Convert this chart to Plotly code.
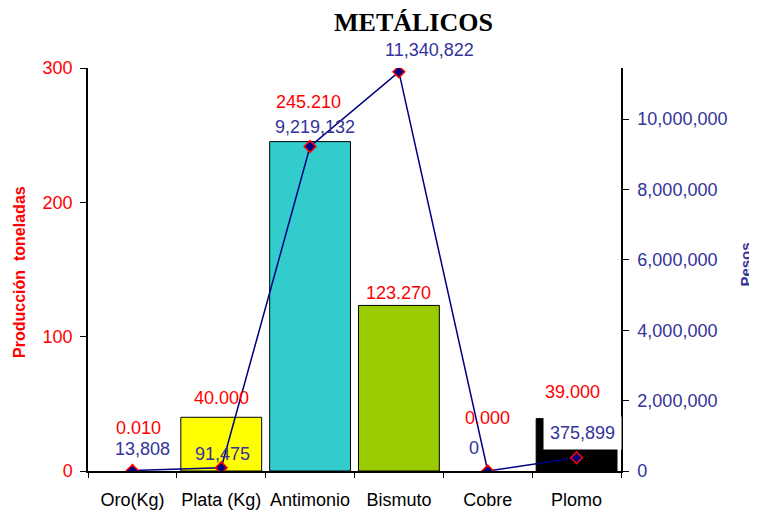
import plotly.graph_objects as go

# ---- data ----
categories = ["Oro(Kg)", "Plata (Kg)", "Antimonio", "Bismuto", "Cobre", "Plomo"]
produccion = [0.010, 40.000, 245.210, 123.270, 0.000, 39.000]
produccion_labels = ["0.010", "40.000", "245.210", "123.270", "0.000", "39.000"]
pesos = [13808, 91475, 9219132, 11340822, 0, 375899]
pesos_labels = ["13,808", "91,475", "9,219,132", "11,340,822", "0", "375,899"]

# ---- styles / label placement (pixels) ----
bar_colors = ["#FFFFFF", "#FFFF00", "#33CCCC", "#99CC00", "#FFFFFF", "#000000"]
bar_outline = [0, 1, 1, 1, 0, 1]
bar_label_shift = [(6, 43), (0, 19), (-2, 40), (0, 12), (0, 53), (-4, 27)]
line_label_shift = [(10, 22), (1, 14), (5, 20), (31, 22), (-14, 23), (6, 25)]

FONT = "Liberation Sans, Arial, sans-serif"
RED = "#FF0000"
BLUE = "#333399"
NAVY = "#000080"

W, H = 749, 506  # page body has an 8px margin

fig = go.Figure()
fig.add_trace(go.Bar(
    x=categories, y=produccion, yaxis="y",
    marker=dict(color=bar_colors, line=dict(color="black", width=bar_outline)),
    showlegend=False, hoverinfo="skip",
))
fig.add_trace(go.Scatter(
    x=categories, y=pesos, yaxis="y2", mode="lines+markers",
    line=dict(color=NAVY, width=1.5),
    marker=dict(symbol="diamond", size=9, color=NAVY, line=dict(color=RED, width=1.5)),
    showlegend=False, hoverinfo="skip",
))

annotations = []
for i, c in enumerate(categories):
    dx, dy = bar_label_shift[i]
    annotations.append(dict(
        x=c, y=produccion[i], xref="x", yref="y", text=produccion_labels[i],
        showarrow=False, xshift=dx, yshift=dy, xanchor="center", yanchor="middle",
        font=dict(family=FONT, size=18, color=RED),
    ))
for i, c in enumerate(categories):
    dx, dy = line_label_shift[i]
    extra = {}
    if c == "Plomo":
        extra = dict(bgcolor="white", borderpad=6)
    annotations.append(dict(
        x=c, y=pesos[i], xref="x", yref="y2", text=pesos_labels[i],
        showarrow=False, xshift=dx, yshift=dy, xanchor="center", yanchor="middle",
        font=dict(family=FONT, size=18, color=BLUE), **extra,
    ))
annotations.append(dict(
    x=-0.1276, y=0.494, xref="paper", yref="paper", text="<b>Producción  toneladas</b>",
    textangle=-90, showarrow=False, xanchor="center", yanchor="middle",
    font=dict(family=FONT, size=16, color=RED),
))
annotations.append(dict(
    x=(748 - 80) / 533, y=0.511, xref="paper", yref="paper", text="<b>Pesos</b>",
    textangle=-90, showarrow=False, xanchor="right", yanchor="middle",
    font=dict(family=FONT, size=15, color=BLUE),
))

fig.update_layout(
    width=W, height=H, autosize=False,
    margin=dict(l=80, r=136, t=60, b=43, autoexpand=False),
    paper_bgcolor="white", plot_bgcolor="white",
    bargap=0.09,
    title=dict(text="<b>METÁLICOS</b>", x=405.5 / W, xref="container", xanchor="center",
               y=1 - 14 / H, yref="container", yanchor="middle",
               font=dict(family="Liberation Serif, Times New Roman, serif", size=26, color="black")),
    xaxis=dict(type="category", range=[-0.5, 5.5], showline=True, linecolor="black", linewidth=1.5,
               ticks="outside", ticklen=5, tickcolor="black", tickson="boundaries",
               tickangle=0, automargin=False, ticklabelstandoff=12,
               showgrid=False, zeroline=False,
               tickfont=dict(family=FONT, size=18, color="black")),
    yaxis=dict(range=[0, 300], tickvals=[0, 100, 200, 300], showline=True, linecolor="black",
               linewidth=1.5, ticks="outside", ticklen=6, tickcolor="black", automargin=False,
               ticklabelstandoff=4,
               showgrid=False, zeroline=False,
               tickfont=dict(family=FONT, size=18, color=RED)),
    yaxis2=dict(overlaying="y", side="right", range=[0, 11450000],
                tickvals=[0, 2000000, 4000000, 6000000, 8000000, 10000000], tickformat=",d",
                showline=True, linecolor="black", linewidth=1.5, ticks="outside", ticklen=6,
                tickcolor="black", showgrid=False, zeroline=False, automargin=False,
                ticklabelstandoff=5,
                tickfont=dict(family=FONT, size=18, color=BLUE)),
    annotations=annotations,
)

fig.write_html("out.html")
